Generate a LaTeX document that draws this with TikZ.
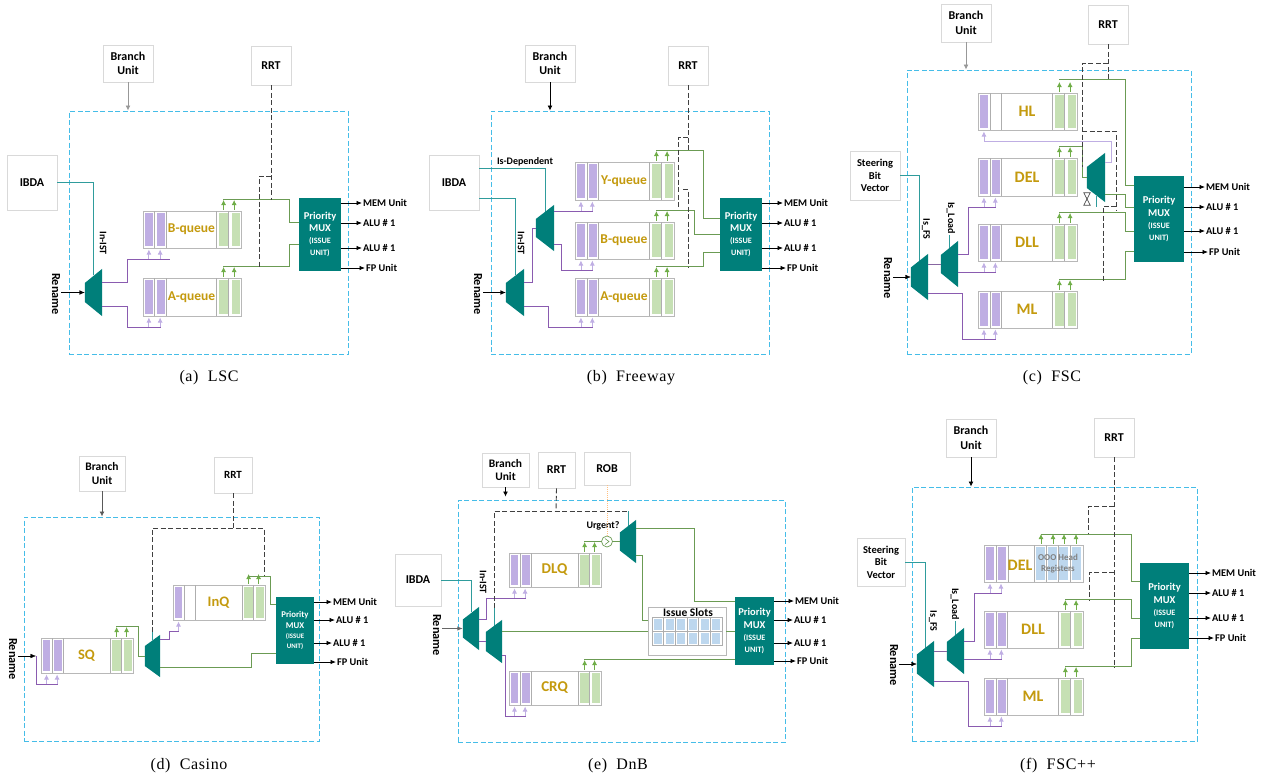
\documentclass[tikz,border=0pt]{standalone}
\usepackage{fontspec}
\setmainfont{Carlito}
\newfontfamily\capfont[LetterSpace=4]{Liberation Serif}
\usetikzlibrary{arrows.meta}

\definecolor{muxteal}{HTML}{007F7A}
\definecolor{framecyan}{HTML}{45BDE8}
\definecolor{lilac}{HTML}{BFAEE3}
\definecolor{leaf}{HTML}{C6E0B4}
\definecolor{wirepurple}{HTML}{8A5BB0}
\definecolor{wiregreen}{HTML}{6B9B53}
\definecolor{wireteal}{HTML}{2F9C9C}
\definecolor{tipgreen}{HTML}{6FAD47}
\definecolor{goldtext}{HTML}{C49A0E}
\definecolor{boxgray}{HTML}{D9D9D9}
\definecolor{slotblue}{HTML}{BDD7EE}

\tikzset{
  unit/.style={draw=boxgray,fill=white,line width=0.7pt,inner sep=0pt,align=center,
    font=\fontsize{12}{14.5}\selectfont\bfseries},
  frame/.style={draw=framecyan,line width=1pt,dash pattern=on 5pt off 2.5pt,inner sep=0pt},
  qbox/.style={draw=boxgray!85!black,fill=white,line width=0.7pt,inner sep=0pt},
  qname/.style={text=goldtext,inner sep=0pt,font=\fontsize{13.5}{14}\selectfont\bfseries},
  tag/.style={inner sep=1pt,font=\fontsize{10.3}{12}\selectfont\bfseries},
  renametag/.style={inner sep=1pt,rotate=-90,font=\fontsize{12.3}{13}\selectfont\bfseries},
  smalltag/.style={inner sep=1pt,font=\fontsize{10}{11}\selectfont\bfseries},
  prio/.style={fill=muxteal,text=white,inner sep=0pt,align=center},
  caption/.style={inner sep=0pt,font=\fontsize{16}{18}\selectfont\capfont},
  violet wire/.style={draw=wirepurple,line width=1pt},
  green wire/.style={draw=wiregreen,line width=1pt},
  teal wire/.style={draw=wireteal,line width=1pt},
  rrt line/.style={draw=black!75,line width=0.9pt,dash pattern=on 5pt off 2.5pt},
  outarrow/.style={->,draw=black,line width=0.8pt},
  feed/.style={-{Latex[length=5pt,width=5pt]},line width=0.8pt}
}

% queue block: [purple bars] name, x, y, width, height, label
\newcommand{\queue}[7][2]{
  \node[qbox,anchor=north west,minimum width=#5pt,minimum height=#6pt] (#2) at (#3,#4) {};
  \begin{scope}[shift={(#2.north west)},x=#5pt,y=-#6pt]
    \foreach \dv in {0.12,0.24,0.75,0.875} \draw[boxgray!80!black,line width=0.6pt] (\dv,0) -- (\dv,1);
    \fill[lilac] (0.02,0.06) rectangle (0.1,0.94);
    \ifnum#1>1 \fill[lilac] (0.143,0.06) rectangle (0.224,0.94); \fi
    \fill[leaf] (0.776,0.06) rectangle (0.865,0.94);
    \fill[leaf] (0.905,0.06) rectangle (0.985,0.94);
    \node[qname] (#2-name) at (0.495,0.5) {#7};
    \draw[feed,lilac] ([yshift=-11pt]0.06,1) -- ([yshift=-1.5pt]0.06,1);
    \ifnum#1>1 \draw[feed,lilac] ([yshift=-11pt]0.175,1) -- ([yshift=-1.5pt]0.175,1); \fi
    \foreach \fx in {0.822,0.93} \draw[feed,tipgreen] ([yshift=1.5pt]\fx,0) -- ([yshift=11pt]\fx,0);
    \coordinate (#2-in1) at ([yshift=-11.5pt]0.06,1);
    \coordinate (#2-in) at ([yshift=-11.5pt]0.18,1);
    \coordinate (#2-out) at ([yshift=11.5pt]0.82,0);
  \end{scope}
}

% trapezium mux: name, cx, cy, width, height, half height of the narrow side
\newcommand{\portmux}[6]{
  \node[inner sep=0pt,minimum width=#4pt,minimum height=#5pt] (#1) at (#2,#3) {};
  \fill[muxteal] (#1.north east) -- (#1.south east)
    -- ([yshift=-#6pt]#1.west) -- ([yshift=#6pt]#1.west) -- cycle;
}

% issue mux: [font size] name, cx, cy, width, height
\newcommand{\priomux}[6][10.5]{
  \pgfmathsetmacro{\subsize}{#1*0.78}
  \pgfmathsetmacro{\leadsize}{#1*1.15}
  \node[prio,minimum width=#5pt,minimum height=#6pt,
    font=\fontsize{#1}{\leadsize}\selectfont\bfseries] (#2) at (#3,#4)
    {Priority\\MUX\\{\fontsize{\subsize}{\leadsize}\selectfont (ISSUE}\\{\fontsize{\subsize}{\leadsize}\selectfont UNIT)}};
}

% output arrows with their labels
\newcommand{\muxouts}[2]{
  \foreach \ox/\oy/\olabel [count=\oi] in {#2} {
    \node[tag,anchor=west] (#1o\oi) at (\ox,\oy) {\olabel};
    \draw[outarrow] (#1o\oi.west -| #1.east) -- (#1o\oi.west);
  }
}

\begin{document}
\begin{tikzpicture}[x=1pt,y=-1pt,>={Latex[length=5.5pt,width=4.5pt]}]
  \useasboundingbox (0,0) rectangle (1266,777);

  % (a) LSC
  \node[frame,minimum width=279pt,minimum height=243pt] (aframe) at (208.5,232.5) {};
  \node[unit,minimum width=50pt,minimum height=37pt] (abranch) at (128,63.5) {Branch\\Unit};
  \node[unit,minimum width=40pt,minimum height=39pt] (arrt) at (271,65.5) {RRT};
  \node[unit,minimum width=50pt,minimum height=55pt] (aibda) at (32,182.5) {IBDA};
  \draw[teal wire] (aibda.east) -| ([yshift=-6pt]93.5,269);
  \portmux{amux}{93.5}{292.5}{17}{47}{9.5}
  \queue{abq}{143}{211}{98}{37}{B-queue}
  \queue{aaq}{143}{278}{98}{38}{A-queue}
  \priomux{apm}{320}{234.5}{42}{73}
  \node[renametag] (arename) at (56,294) {Rename};
  \node[smalltag,rotate=-90] (aist) at (103,243) {In-IST};
  \draw[feed,boxgray!70!black] (abranch.south) -- (abranch.south |- aframe.north);
  \draw[->,black] (arename.north |- amux.west) -- (amux.west);
  \draw[violet wire] ([yshift=10.5pt]amux.east) -- (127,282) |- (170,259);
  \draw[violet wire] ([yshift=-13.5pt]amux.east) -- (127,306) |- (aaq-in);
  \draw[green wire] (abq-out) -| (289,222) -- ([yshift=12.5pt]apm.west);
  \draw[green wire] (aaq-out) -| (289,244) -- ([yshift=-9.5pt]apm.west);
  \draw[rrt line] (arrt.south) -- (arrt.south |- abq-out);
  \draw[rrt line] (271,176) -| (259,266.5);
  \muxouts{apm}{362/203/MEM Unit,362/223/ALU \# 1,362/248/ALU \# 1,365/268/FP Unit}
  \node[caption] (acap) at (209,378) {(a)\ \ LSC};

  % (b) Freeway
  \node[frame,minimum width=278pt,minimum height=243pt] (bframe) at (630,232.5) {};
  \node[unit,minimum width=50pt,minimum height=37pt] (bbranch) at (550,63.5) {Branch\\Unit};
  \node[unit,minimum width=40pt,minimum height=39pt] (brrt) at (688,65.5) {RRT};
  \node[unit,minimum width=50pt,minimum height=55pt] (bibda) at (454,182.5) {IBDA};
  \draw[teal wire] ([yshift=14.5pt]bibda.east) -| (545,212);
  \draw[teal wire] ([yshift=-15.5pt]bibda.east) -| (515,275);
  \portmux{bmux}{515}{292.5}{18}{47}{9.5}
  \portmux{bsub}{545}{228}{18}{46}{9}
  \queue{byq}{575}{162}{99}{38}{Y-queue}
  \queue{bbq}{575}{222}{99}{37}{B-queue}
  \queue{baq}{575}{278}{99}{38}{A-queue}
  \priomux{bpm}{741}{234.5}{42}{73}
  \node[renametag] (brename) at (478,294) {Rename};
  \node[smalltag,rotate=-90] (bist) at (521,243) {In-IST};
  \node[smalltag] (bdep) at (525,162) {Is-Dependent};
  \draw[feed,black] (bbranch.south) -- (bbranch.south |- bframe.north);
  \draw[->,black] (brename.north |- bmux.west) -- (bmux.west);
  \draw[violet wire] ([yshift=10.5pt]bmux.east) -- (532,282) |- (bsub.west);
  \draw[violet wire] ([yshift=-13.5pt]bmux.east) -- (548,306) |- (baq-in);
  \draw[violet wire] (byq-in -| bsub.east) -- (byq-in);
  \draw[violet wire] ([yshift=-16pt]bsub.east) -- (561,244) |- (bbq-in);
  \draw[green wire] (byq-out) -| (703,218) -- ([yshift=16.5pt]bpm.west);
  \draw[green wire] (bbq-out) -| (694,234.5) -- (bpm.west);
  \draw[green wire] (baq-out) -| (703,252) -- ([yshift=-17.5pt]bpm.west);
  \draw[rrt line] (brrt.south) -- (brrt.south |- byq-out);
  \draw[rrt line] (688,137) -| (678,207);
  \draw[rrt line] (683,189) -| (688,267);
  \muxouts{bpm}{783/203/MEM Unit,783/223/ALU \# 1,783/248/ALU \# 1,786/268/FP Unit}
  \node[caption] (bcap) at (631,378) {(b)\ \ Freeway};

  % (c) FSC
  \node[frame,minimum width=284pt,minimum height=284pt] (cframe) at (1049,212) {};
  \node[unit,minimum width=50pt,minimum height=38pt] (cbranch) at (966,23) {Branch\\Unit};
  \node[unit,minimum width=40pt,minimum height=39pt] (crrt) at (1108,24.5) {RRT};
  \node[unit,minimum width=50pt,minimum height=49pt,font=\fontsize{10.5}{12.5}\selectfont\bfseries] (csteer) at (875,175.5) {Steering\\Bit\\Vector};
  \draw[teal wire] (csteer.east) -| (919.5,261);
  \portmux{cmux}{919.5}{277}{17}{46}{9.5}
  \portmux{csub}{949.5}{264}{17}{46}{9}
  \node[smalltag,rotate=-90] (cfs) at (926,229) {Is\_FS};
  \node[smalltag,rotate=-90] (cload) at (951,218) {Is\_Load};
  \draw[teal wire] (cload.east -| csub.north) -- ([yshift=-7pt]csub.north);
  \portmux{cdly}{1096}{177.5}{18}{49}{10.5}
  \queue[1]{chl}{978}{93}{99}{37}{\fontsize{16}{16}\selectfont HL}
  \queue{cdel}{978}{158}{99}{38}{\fontsize{16}{16}\selectfont DEL}
  \queue{cdll}{978}{224}{99}{37}{\fontsize{16}{16}\selectfont DLL}
  \queue{cml}{978}{291}{99}{37}{\fontsize{16}{16}\selectfont ML}
  \priomux{cpm}{1159}{219}{50}{86}
  \node[renametag] (crename) at (888,278) {Rename};
  \draw[->,black] (crename.north |- cmux.west) -- (cmux.west);
  \draw[feed,boxgray!70!black] (cbranch.south) -- (cbranch.south |- cframe.north);
  \draw[violet wire,draw=wirepurple!70!gray] (csub.west -| cmux.east) -- (csub.west);
  \draw[violet wire] ([yshift=10pt]csub.east) -- (968,254) |- (cdel-in);
  \draw[violet wire] (cdll-in -| csub.east) -- (cdll-in);
  \draw[violet wire] ([yshift=-16pt]cmux.east) -- (962,293) |- (cml-in);
  \draw[violet wire,draw=lilac] ([yshift=15.5pt]cdly.east) -- (1111,162) |- (chl-in1);
  \draw[green wire] ([yshift=2.5pt]chl-out) -| (1125,185) -- ([yshift=34pt]cpm.west);
  \draw[green wire] (cdel-out) -| (1082,177.5) -- (cdly.west);
  \draw[green wire] ([yshift=-16.5pt]cdly.east) -- (1125,194) |- ([yshift=12pt]cpm.west);
  \draw[green wire] (cdll-out) -| (1125,231) -- ([yshift=-12pt]cpm.west);
  \draw[green wire] (cml-out) -| (1125,251) -- ([yshift=-32pt]cpm.west);
  \draw[rrt line] (crrt.south) -- (1108,79);
  \draw[rrt line] (1108,63) -| (1082,167);
  \draw[rrt line] (1082,131) -| (1116,211);
  \draw[rrt line] (1116,206) -| (1103,281);
  % hourglass under the delay mux
  \node[inner sep=0pt,minimum width=6pt,minimum height=12pt] (chour) at (1087,199) {};
  \draw[black!70,line width=0.7pt] (chour.north west) -- (chour.north east) -- (chour.south west)
    -- (chour.south east) -- cycle;
  \draw[teal wire] (1096,196) -- (1096,207);
  \muxouts{cpm}{1205/187/MEM Unit,1205/207/ALU \# 1,1205/231/ALU \# 1,1208/252/FP Unit}
  \node[caption] (ccap) at (1052,378) {(c)\ \ FSC};

  % (d) Casino
  \node[frame,minimum width=295pt,minimum height=224pt] (dframe) at (171.5,629) {};
  \node[unit,minimum width=46pt,minimum height=35pt,font=\fontsize{11.5}{13.5}\selectfont\bfseries] (dbranch) at (102,473.5) {Branch\\Unit};
  \node[unit,minimum width=38pt,minimum height=36pt,font=\fontsize{11}{13}\selectfont\bfseries] (drrt) at (233,475) {RRT};
  \queue{dsq}{41}{638}{92}{35}{\fontsize{14.5}{15}\selectfont SQ}
  \queue[1]{dinq}{173}{585}{92}{35}{\fontsize{14.5}{15}\selectfont InQ}
  \portmux{dmux}{152.5}{656}{15}{42}{10}
  \priomux[8.8]{dpm}{295}{630.5}{38}{67}
  \node[renametag] (drename) at (13,659) {Rename};
  \coordinate (dpin) at (36,656);
  \draw[->,black] (drename.north |- dpin) -- (dpin);
  \draw[feed,black!65,line width=0.9pt] (dbranch.south) -- (dbranch.south |- dframe.north);
  \draw[violet wire] (dpin) |- (dsq-in);
  \draw[violet wire] ([yshift=17pt]dmux.east) -- (169,639) |- (dinq-in1);
  \draw[green wire] (dsq-out) -| (138,656) -- (dmux.west);
  \draw[green wire] ([yshift=-2.5pt]dinq-out) -| (270,604) -- ([yshift=26.5pt]dpm.west);
  \draw[green wire] ([yshift=-11pt]dmux.east) -- (251,667) |- ([yshift=-22.5pt]dpm.west);
  \draw[rrt line] (drrt.south) -- (233,528);
  \draw[rrt line] (152,632) |- (264,528) -- (264,576);
  \draw[teal wire] (152,632) -- (152,640);
  \muxouts{dpm}{332/602/MEM Unit,335/620/ALU \# 1,332/643/ALU \# 1,336/662/FP Unit}
  \node[caption] (dcap) at (189,766) {(d)\ \ Casino};

  % (e) DnB
  \node[frame,minimum width=327pt,minimum height=242pt] (eframe) at (621.5,621) {};
  \node[unit,minimum width=47pt,minimum height=34pt,font=\fontsize{11.5}{13.5}\selectfont\bfseries] (ebranch) at (505.5,470) {Branch\\Unit};
  \node[unit,minimum width=37pt,minimum height=36pt] (errt) at (556.5,470) {RRT};
  \node[unit,minimum width=46pt,minimum height=33pt] (erob) at (607,468.5) {ROB};
  \node[unit,minimum width=46pt,minimum height=52pt] (eibda) at (418,580) {IBDA};
  \draw[teal wire] (eibda.east) -| (471,612);
  \draw[teal wire] (494,608) -- (494,626);
  \draw[teal wire] (628,511) -- (628,526);
  \portmux{emux}{471}{628.5}{16}{43}{9}
  \portmux{esub}{494}{641.5}{16}{43}{9.5}
  \portmux{egate}{628}{541.5}{16}{43}{9}
  \queue{edlq}{509}{553}{92}{34}{\fontsize{15}{15}\selectfont DLQ}
  \queue{ecrq}{509}{671}{92}{34}{\fontsize{15}{15}\selectfont CRQ}
  \priomux{epm}{754.5}{631}{39}{68}
  \node[qbox,minimum width=78pt,minimum height=48pt] (eslots) at (687,631) {};
  \node[tag,font=\fontsize{11.5}{13}\selectfont\bfseries] (eslotname) at (688,612) {Issue Slots};
  \foreach \sx in {0,...,5} {
    \foreach \sy in {0,1} {
      \draw[boxgray!80!black,line width=0.6pt,fill=white] (652+11.67*\sx,617+14*\sy) rectangle ++(11.67,14);
      \fill[slotblue] (654+11.67*\sx,618.5+14*\sy) rectangle ++(8,11);
    }
  }
  \node[draw=wiregreen,fill=white,circle,inner sep=0pt,minimum size=11pt,line width=0.7pt] (eurg) at (607,541.5) {};
  \draw[wiregreen,line width=0.6pt] ([xshift=-2pt,yshift=3pt]eurg.center) -- ([xshift=2pt]eurg.center)
    -- ([xshift=-2pt,yshift=-3pt]eurg.center);
  \node[smalltag] (eurgent) at (603,526) {Urgent?};
  \node[renametag] (erename) at (437,635) {Rename};
  \node[smalltag,rotate=-90] (eist) at (483,582) {In-IST};
  \draw[feed,black] (ebranch.south) -- ([yshift=3pt]ebranch.south |- eframe.north);
  \draw[->,black!60,line width=0.9pt] (erename.north |- emux.west) -- (emux.west);
  \draw[draw=orange!50,line width=1pt,densely dotted] (erob.south) -- (erob.south |- eurg.north);
  \draw[violet wire] ([yshift=9.5pt]emux.east) -- (486,619) |- (edlq-in);
  \draw[violet wire] (esub.west -| emux.east) -- (esub.west);
  \draw[violet wire] ([yshift=-13.5pt]esub.east) -- (505,655) |- (ecrq-in);
  \draw[green wire] (edlq-out) -- (eurg.west);
  \draw[green wire] (eurg.east) -- (egate.west);
  \draw[green wire] ([yshift=13pt]egate.east) -- (694,528.5) |- ([yshift=30pt]epm.west);
  \draw[green wire] ([yshift=-14pt]egate.east) -- (642,555.5) |- ([yshift=11pt]eslots.west);
  \draw[green wire] (eslots.west -| esub.east) -- (eslots.west);
  \draw[green wire] (eslots.east) -- (epm.west);
  \draw[green wire] (ecrq-out) -- ([yshift=-28.5pt]epm.west);
  \draw[rrt line] (errt.south) -- (556,511);
  \draw[rrt line] (494,608) |- (628,511);
  \muxouts{epm}{794/601/MEM Unit,793/620/ALU \# 1,793/643/ALU \# 1,796/661/FP Unit}
  \node[caption] (ecap) at (618,766) {(e)\ \ DnB};

  % (f) FSC++
  \node[frame,minimum width=285pt,minimum height=254pt] (fframe) at (1054.5,614) {};
  \node[unit,minimum width=50pt,minimum height=38pt] (fbranch) at (971,438) {Branch\\Unit};
  \node[unit,minimum width=40pt,minimum height=39pt] (frrt) at (1114,437.5) {RRT};
  \node[unit,minimum width=48pt,minimum height=48pt,font=\fontsize{10.5}{12.5}\selectfont\bfseries] (fsteer) at (881,562) {Steering\\Bit\\Vector};
  \draw[teal wire] (fsteer.east) -| (925.5,648);
  \portmux{fmux}{925.5}{664}{17}{46}{9.5}
  \portmux{fsub}{955.5}{651}{17}{46}{9}
  \node[smalltag,rotate=-90] (ffs) at (933,621) {Is\_FS};
  \node[smalltag,rotate=-90] (fload) at (955,604) {Is\_Load};
  \draw[teal wire] (fload.east -| fsub.north) -- ([yshift=-7pt]fsub.north);
  % DEL has head registers in place of the two green slots
  \node[qbox,anchor=north west,minimum width=99pt,minimum height=37pt] (fdel) at (984,545) {};
  \foreach \dv in {996,1008,1034,1046,1058,1070} \draw[boxgray!80!black,line width=0.6pt] (\dv,545) -- (\dv,582);
  \foreach \bx in {986,998} \fill[lilac] (\bx,547) rectangle ++(8,33);
  \foreach \bx in {1036,1048,1059,1072} \fill[slotblue] (\bx,547) rectangle ++(9,33);
  \foreach \fx in {1041,1053,1064,1076} \draw[feed,tipgreen] (\fx,543.5) -- (\fx,534);
  \foreach \fx in {990,1001} \draw[feed,lilac] (\fx,593) -- (\fx,583.5);
  \coordinate (fdel-in) at (1002,593.5);
  \coordinate (fdel-out) at (1041,534);
  \node[qname,font=\fontsize{16}{16}\selectfont\bfseries] (fdelname) at (1020,565) {DEL};
  \node[align=center,text=black!50,inner sep=0pt,font=\fontsize{9}{11}\selectfont\bfseries] (fooo) at (1058,563.5) {OOO Head\\Registers};
  \queue{fdll}{984}{611}{99}{37}{\fontsize{16}{16}\selectfont DLL}
  \queue{fml}{984}{678}{99}{37}{\fontsize{16}{16}\selectfont ML}
  \priomux{fpm}{1164.5}{606}{49}{86}
  \node[renametag] (frename) at (894,665) {Rename};
  \draw[->,black] (frename.north |- fmux.west) -- (fmux.west);
  \draw[feed,black] (fbranch.south) -- (fbranch.south |- fframe.north);
  \draw[violet wire,draw=wirepurple!70!gray] (fsub.west -| fmux.east) -- (fsub.west);
  \draw[violet wire] ([yshift=10pt]fsub.east) -- (974,641) |- (fdel-in);
  \draw[violet wire] (fdll-in -| fsub.east) -- (fdll-in);
  \draw[violet wire] ([yshift=-17pt]fmux.east) -- (968,681) |- (fml-in);
  \draw[green wire] (fdel-out) -| (1131,581) -- ([yshift=25pt]fpm.west);
  \draw[green wire] (fdll-out) -| (1131,618) -- ([yshift=-12pt]fpm.west);
  \draw[green wire] (fml-out) -| (1131,638) -- ([yshift=-32pt]fpm.west);
  \draw[rrt line] (frrt.south) -- (1114,668);
  \draw[rrt line] (1114,506) -| (1088,534);
  \draw[rrt line] (1114,572) -| (1089,600);
  \muxouts{fpm}{1211/573/MEM Unit,1211/593/ALU \# 1,1211/618/ALU \# 1,1214/638/FP Unit}
  \node[caption] (fcap) at (1058,766) {(f)\ \ FSC++};
\end{tikzpicture}
\end{document}
